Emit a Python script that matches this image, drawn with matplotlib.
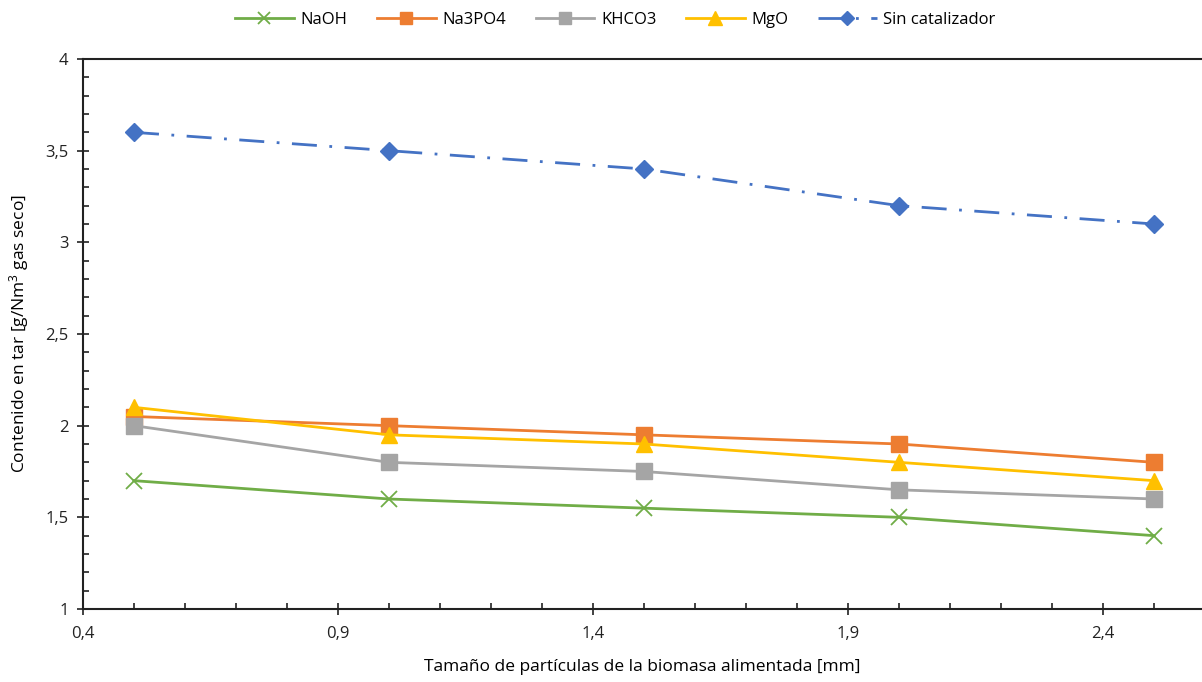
import matplotlib
matplotlib.use('Agg')
import matplotlib.pyplot as plt
import numpy as np
from matplotlib.ticker import FixedLocator, MultipleLocator, FuncFormatter

plt.rcParams['font.family'] = ['Open Sans', 'DejaVu Sans']
plt.rcParams['mathtext.default'] = 'regular'

# tamaño de partícula [mm]
x = [0.5, 1.0, 1.5, 2.0, 2.5]

naoh = [1.7, 1.6, 1.55, 1.5, 1.4]
na3po4 = [2.05, 2.0, 1.95, 1.9, 1.8]
khco3 = [2.0, 1.8, 1.75, 1.65, 1.6]
mgo = [2.1, 1.95, 1.9, 1.8, 1.7]
sin_cat = [3.6, 3.5, 3.4, 3.2, 3.1]

fig = plt.figure(figsize=(12.02, 6.82), dpi=100)
ax = fig.add_axes([83/1202, (682-609)/682, (1201-83)/1202, (609-59)/682])

ax.plot(x, naoh, color='#70AD47', lw=2, marker='x', ms=11, mew=1.3, label='NaOH')
ax.plot(x, na3po4, color='#ED7D31', lw=2, marker='s', ms=11, label='Na3PO4')
ax.plot(x, khco3, color='#A5A5A5', lw=2, marker='s', ms=11, label='KHCO3')
ax.plot(x, mgo, color='#FFC000', lw=2, marker='^', ms=12, label='MgO')
ax.plot(x, sin_cat, color='#4472C4', lw=2, marker='D', ms=9,
        dashes=(9, 4.5, 1, 4.5), label='Sin catalizador')

ax.set_xlim(0.4, 2.592)
ax.set_ylim(1, 4)
ax.xaxis.set_major_locator(FixedLocator(np.arange(0.4, 2.5, 0.5)))
ax.xaxis.set_minor_locator(FixedLocator(np.arange(0.4, 2.59, 0.1)))
ax.yaxis.set_major_locator(MultipleLocator(0.5))
ax.yaxis.set_minor_locator(MultipleLocator(0.1))
comma = FuncFormatter(lambda v, p: ('%g' % round(v, 2)).replace('.', ','))
ax.xaxis.set_major_formatter(comma)
ax.yaxis.set_major_formatter(comma)

ax.tick_params(which='major', direction='inout', length=9, width=1.2,
               labelsize=12, colors='#222222', pad=8)
ax.tick_params(which='minor', direction='in', length=4, width=1.2, colors='#222222')
ax.tick_params(axis='y', which='major', pad=6)

for s in ['left', 'bottom', 'top']:
    ax.spines[s].set_color('#222222')
    ax.spines[s].set_linewidth(1.5)
ax.spines['right'].set_visible(False)

ax.set_xlabel('Tamaño de partículas de la biomasa alimentada [mm]', fontsize=12.5, labelpad=12)
ax.set_ylabel('Contenido en tar [g/Nm$^{3}$ gas seco]', fontsize=12.5, labelpad=10)

fig.legend(loc='upper center', bbox_to_anchor=(0.512, 1.005), ncol=5, frameon=False,
           fontsize=12, handlelength=3.5, columnspacing=1.8, handletextpad=0.4,
           markerscale=0.8)

fig.savefig('out.png', dpi=100)
